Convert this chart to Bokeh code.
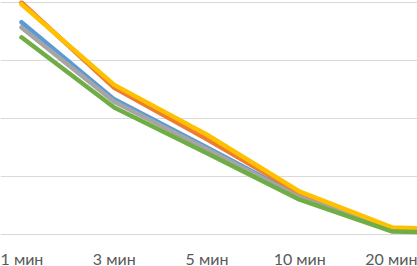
from bokeh.plotting import figure
from bokeh.models import FixedTicker, GlobalInlineStyleSheet
from bokeh.embed import file_html
from bokeh.resources import INLINE

# the sixth category lies beyond the cropped right edge; only its line segment shows
categories = ["1 мин", "3 мин", "5 мин", "10 мин", "20 мин", "30 мин"]
visible_ticks = [0, 1, 2, 3, 4]
series_blue = [3.66, 2.33, 1.50, 0.655, 0.09, 0.05]
series_orange = [4.00, 2.53, 1.64, 0.71, 0.10, 0.06]
series_gray = [3.57, 2.29, 1.47, 0.64, 0.07, 0.04]
series_yellow = [3.97, 2.58, 1.72, 0.74, 0.12, 0.08]
series_green = [3.40, 2.19, 1.40, 0.60, 0.05, 0.02]
grid_values = [0, 1, 2, 3, 4]

colors = ["#5B9BD5", "#ED7D31", "#A5A5A5", "#FFC000", "#70AD47"]
series = [series_blue, series_orange, series_gray, series_yellow, series_green]

xs = list(range(len(categories)))

y_top = 4 + 2 / 58
y_bottom = y_top - 266 / 58
x_start = -21 / 92.75
x_end = x_start + 417 / 92.75

p = figure(width=417, height=266, output_backend="svg", toolbar_location=None,
           x_range=(x_start, x_end), y_range=(y_bottom, y_top),
           min_border_left=0, min_border_right=0, min_border_top=0, min_border_bottom=0)
p.stylesheets = [GlobalInlineStyleSheet(css="html,body{margin:0;padding:0;overflow:hidden;}")]
p.outline_line_color = None
p.background_fill_color = "white"
p.border_fill_color = "white"

for vals, c in zip(series, colors):
    p.line(xs, vals, line_color=c, line_width=4.5, line_join="round", line_cap="round")

p.yaxis.visible = False
p.ygrid.ticker = FixedTicker(ticks=grid_values)
p.ygrid.grid_line_color = "#D9D9D9"
p.ygrid.grid_line_width = 1
p.xgrid.visible = False

p.xaxis.ticker = FixedTicker(ticks=visible_ticks)
p.xaxis.fixed_location = -14 / 58
p.xaxis.major_label_overrides = {i: categories[i] for i in visible_ticks}
p.xaxis.axis_line_color = None
p.xaxis.major_tick_line_color = None
p.xaxis.minor_tick_line_color = None
p.xaxis.major_label_text_font = "Lato"
p.xaxis.major_label_text_font_size = "16px"
p.xaxis.major_label_text_color = "#595959"
p.xaxis.major_label_standoff = 0
p.xaxis.major_tick_out = 0
p.xaxis.major_tick_in = 0

open("out.html", "w").write(file_html(p, INLINE))
